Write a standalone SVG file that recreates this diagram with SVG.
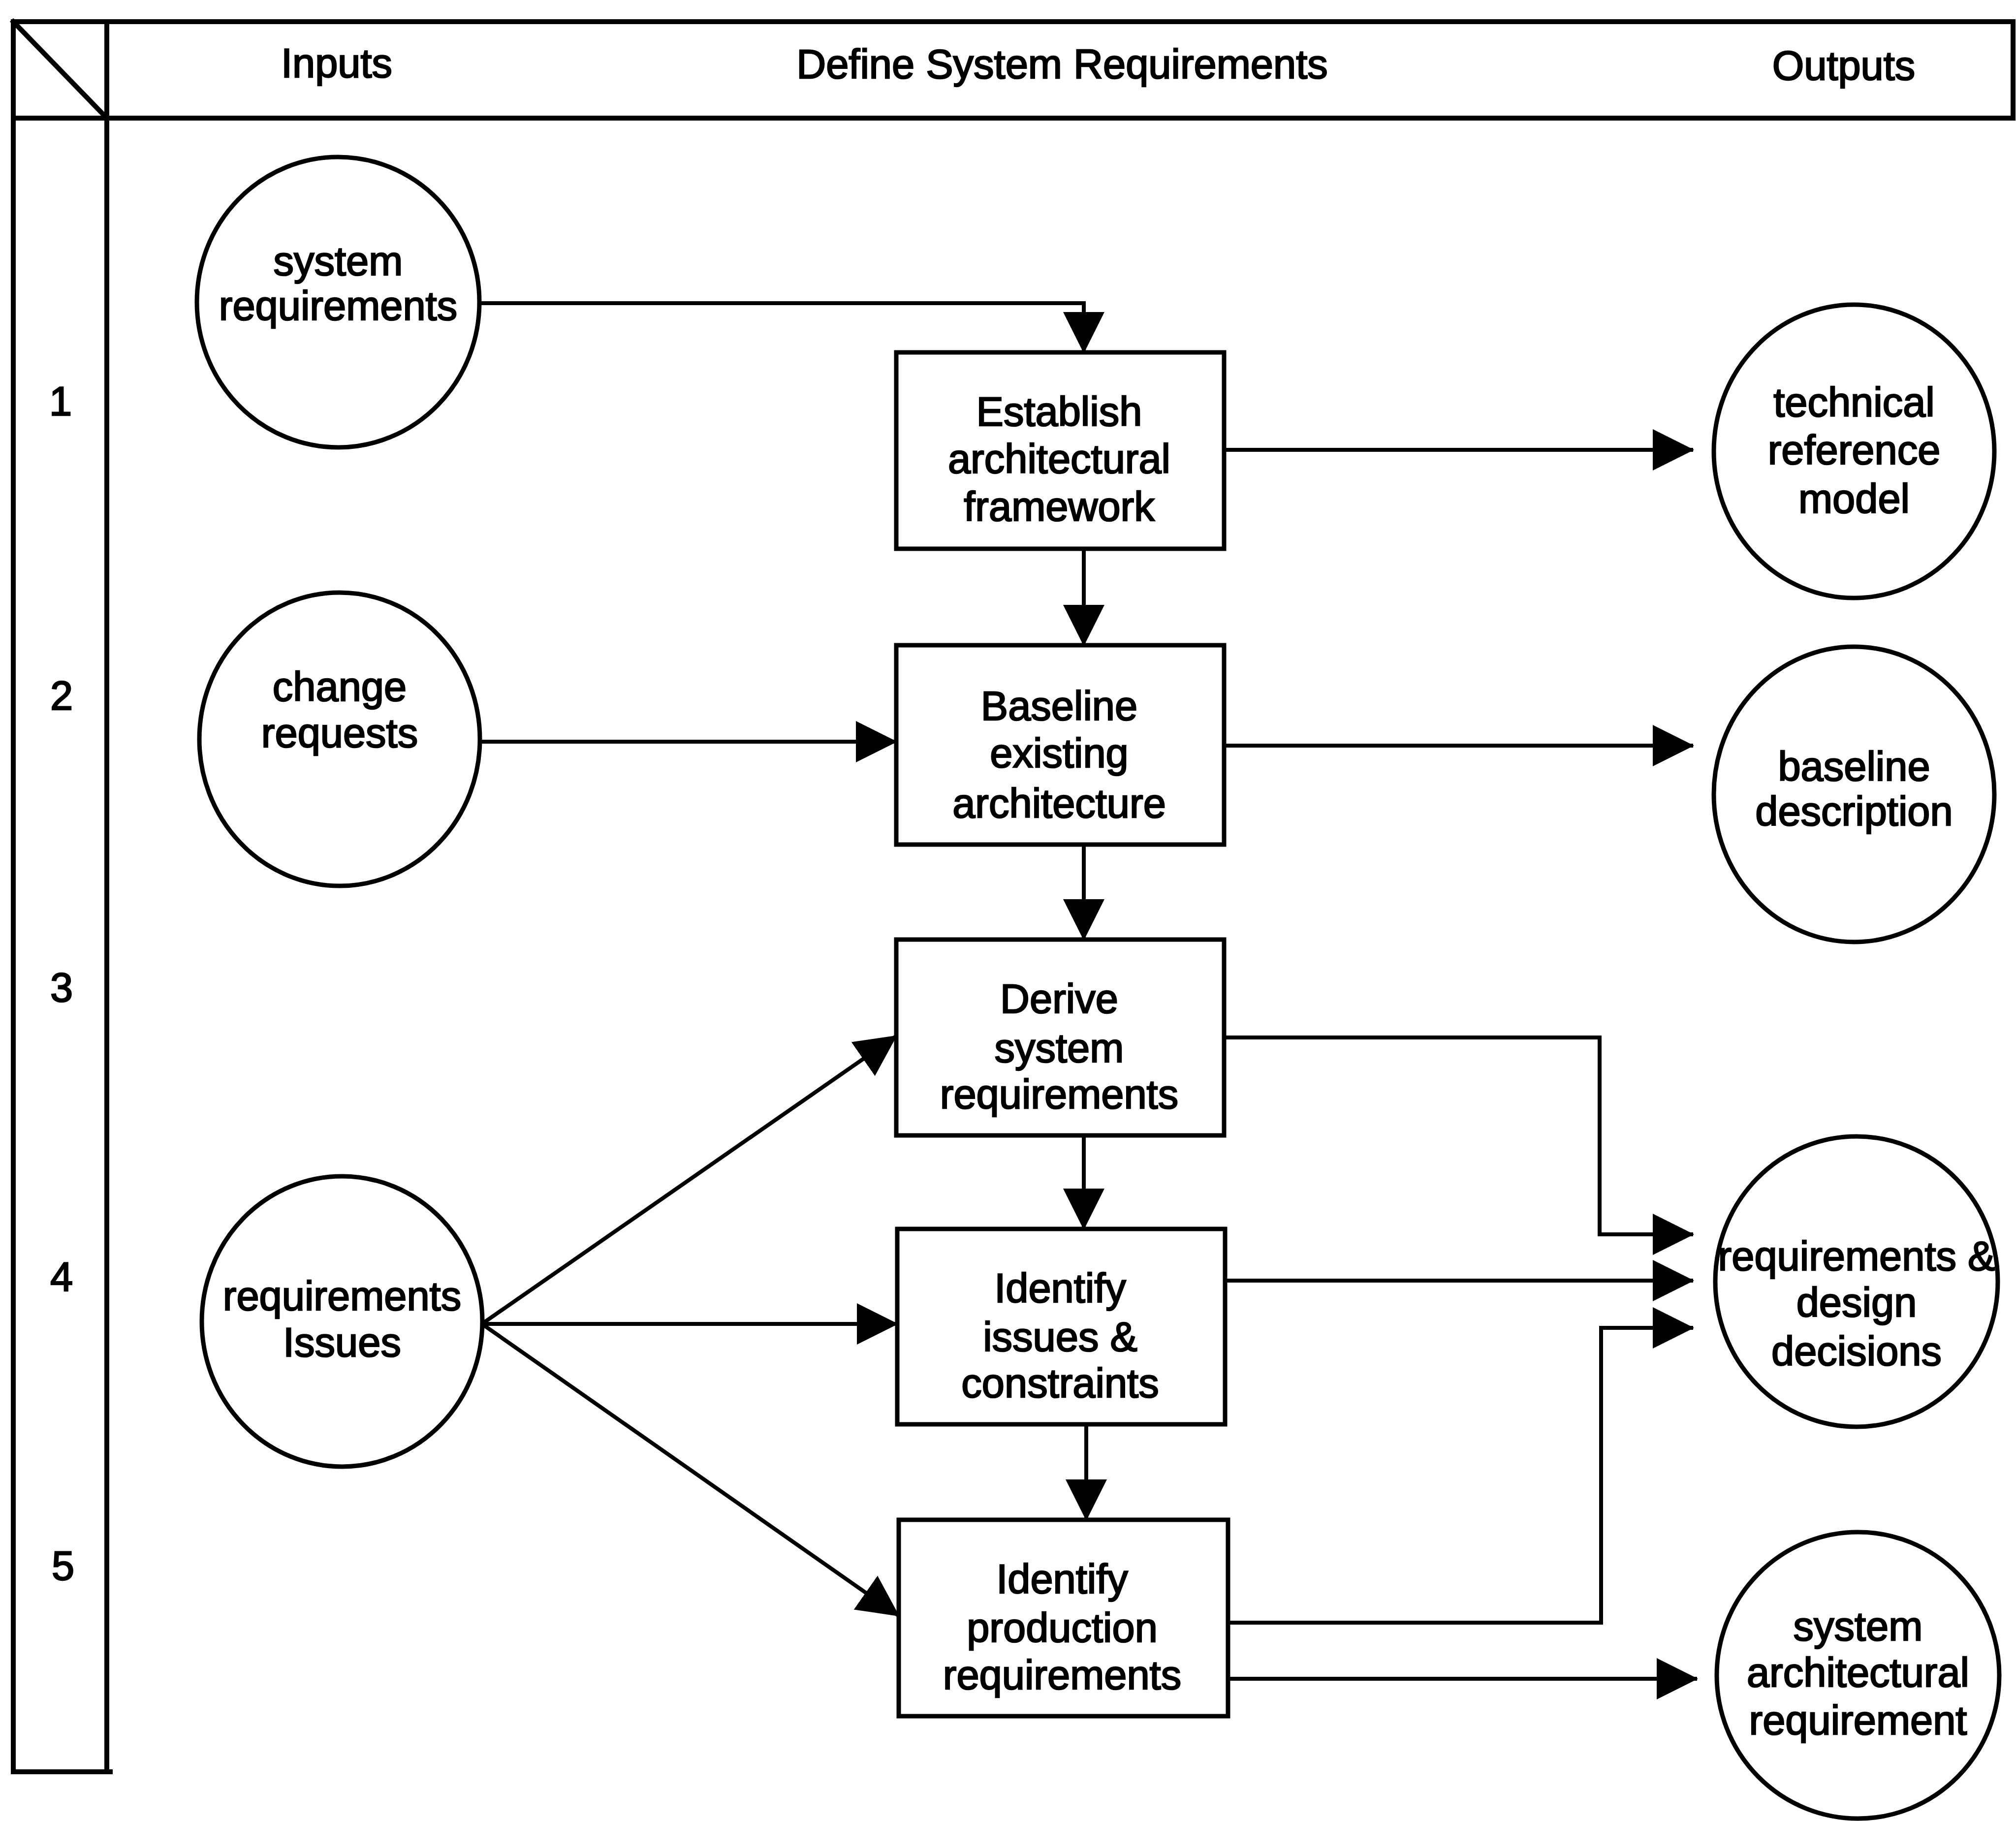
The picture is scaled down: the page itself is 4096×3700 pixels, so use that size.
<svg xmlns="http://www.w3.org/2000/svg" width="4096" height="3700" viewBox="0 0 4096 3700">
  <style>
    .frame { fill: none; stroke: #000; stroke-width: 10; stroke-linecap: square; }
    .node { fill: #fff; stroke: #000; stroke-width: 9; }
    .conn { fill: none; stroke: #000; stroke-width: 8; stroke-linejoin: miter; }
    text { font-family: "Liberation Sans", Arial, sans-serif; font-size: 83px; fill: #000; stroke: #000; stroke-width: 2.5; text-anchor: middle; }
  </style>
  <defs>
    <marker id="arrow" markerUnits="userSpaceOnUse" viewBox="0 0 84 84" refX="82" refY="42" markerWidth="84" markerHeight="84" orient="auto">
      <path d="M0,0 L84,42 L0,84 Z" fill="#000"/>
    </marker>
  </defs>
  <rect width="4096" height="3700" fill="#fff"/>

  <!-- header band and row-number column -->
  <g id="frame">
    <path class="frame" d="M27,44 H4090 V240 H27 M27,44 V3600 H224 M217,44 V3600 M27,44 L217,240"/>
    <text x="684" y="157">Inputs</text>
    <text x="2158" y="159">Define System Requirements</text>
    <text x="3746" y="162">Outputs</text>
    <text x="123" y="844">1</text>
    <text x="125" y="1442">2</text>
    <text x="125" y="2035">3</text>
    <text x="125" y="2623">4</text>
    <text x="128" y="3210">5</text>
  </g>

  <!-- connectors -->
  <g id="connectors">
    <path class="conn" d="M974,616 H2202 V716" marker-end="url(#arrow)"/>
    <path class="conn" d="M2487,914 H3440" marker-end="url(#arrow)"/>
    <path class="conn" d="M2202,1115 V1311" marker-end="url(#arrow)"/>
    <path class="conn" d="M975,1507 H1821" marker-end="url(#arrow)"/>
    <path class="conn" d="M2487,1515 H3440" marker-end="url(#arrow)"/>
    <path class="conn" d="M2202,1716 V1909" marker-end="url(#arrow)"/>
    <path class="conn" d="M982,2688 L1821,2105" marker-end="url(#arrow)"/>
    <path class="conn" d="M982,2690 H1823" marker-end="url(#arrow)"/>
    <path class="conn" d="M982,2692 L1826,3283" marker-end="url(#arrow)"/>
    <path class="conn" d="M2202,2307 V2497" marker-end="url(#arrow)"/>
    <path class="conn" d="M2207,2894 V3088" marker-end="url(#arrow)"/>
    <path class="conn" d="M2487,2108 H3250 V2508 H3440" marker-end="url(#arrow)"/>
    <path class="conn" d="M2489,2602 H3440" marker-end="url(#arrow)"/>
    <path class="conn" d="M2495,3297 H3253 V2698 H3440" marker-end="url(#arrow)"/>
    <path class="conn" d="M2495,3411 H3448" marker-end="url(#arrow)"/>
  </g>

  <!-- inputs -->
  <g id="in-system-requirements">
    <ellipse class="node" cx="687" cy="614" rx="287" ry="295"/>
    <text x="687" y="559">system</text>
    <text x="687" y="650">requirements</text>
  </g>
  <g id="in-change-requests">
    <ellipse class="node" cx="690" cy="1502" rx="285" ry="298"/>
    <text x="690" y="1424">change</text>
    <text x="690" y="1518">requests</text>
  </g>
  <g id="in-requirements-issues">
    <ellipse class="node" cx="695" cy="2685" rx="285" ry="295"/>
    <text x="695" y="2662">requirements</text>
    <text x="695" y="2756">Issues</text>
  </g>

  <!-- activities -->
  <g id="establish-framework">
    <rect class="node" x="1821" y="716" width="666" height="399"/>
    <text x="2152" y="865">Establish</text>
    <text x="2152" y="961">architectural</text>
    <text x="2152" y="1058">framework</text>
  </g>
  <g id="baseline-architecture">
    <rect class="node" x="1821" y="1311" width="666" height="405"/>
    <text x="2152" y="1463">Baseline</text>
    <text x="2152" y="1559">existing</text>
    <text x="2152" y="1661">architecture</text>
  </g>
  <g id="derive-requirements">
    <rect class="node" x="1821" y="1909" width="666" height="398"/>
    <text x="2152" y="2058">Derive</text>
    <text x="2152" y="2158">system</text>
    <text x="2152" y="2252">requirements</text>
  </g>
  <g id="identify-issues">
    <rect class="node" x="1823" y="2497" width="666" height="397"/>
    <text x="2154" y="2646">Identify</text>
    <text x="2154" y="2745">issues &amp;</text>
    <text x="2154" y="2839">constraints</text>
  </g>
  <g id="identify-production">
    <rect class="node" x="1826" y="3088" width="669" height="399"/>
    <text x="2158" y="3237">Identify</text>
    <text x="2158" y="3336">production</text>
    <text x="2158" y="3432">requirements</text>
  </g>

  <!-- outputs -->
  <g id="out-technical-reference-model">
    <ellipse class="node" cx="3767" cy="917" rx="285" ry="298"/>
    <text x="3767" y="846">technical</text>
    <text x="3767" y="943">reference</text>
    <text x="3767" y="1042">model</text>
  </g>
  <g id="out-baseline-description">
    <ellipse class="node" cx="3767" cy="1614" rx="285" ry="300"/>
    <text x="3767" y="1586">baseline</text>
    <text x="3767" y="1677">description</text>
  </g>
  <g id="out-requirements-decisions">
    <ellipse class="node" cx="3772" cy="2604" rx="287" ry="295"/>
    <text x="3772" y="2581">requirements &amp;</text>
    <text x="3772" y="2675">design</text>
    <text x="3772" y="2774">decisions</text>
  </g>
  <g id="out-system-architectural-requirement">
    <ellipse class="node" cx="3775" cy="3404" rx="287" ry="291"/>
    <text x="3775" y="3333">system</text>
    <text x="3775" y="3427">architectural</text>
    <text x="3775" y="3524">requirement</text>
  </g>
</svg>
